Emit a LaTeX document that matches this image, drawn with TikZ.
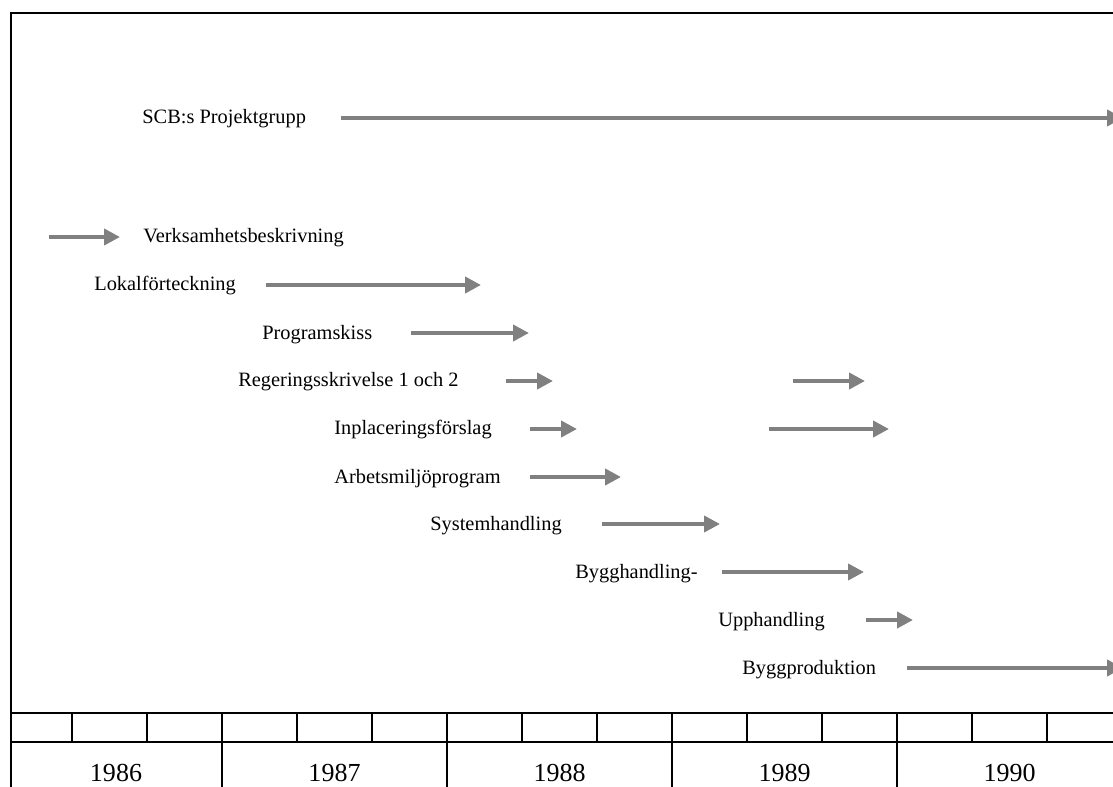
\documentclass[tikz,border=0pt]{standalone}
\usepackage{fontspec}
\setmainfont{Liberation Serif}
\usepackage{xcolor}
\usetikzlibrary{arrows.meta}

\begin{document}
\begin{tikzpicture}[x=0.02cm,y=-0.02cm,
        bar/.style={line width=0.095cm,draw=gray,-{Triangle[length=0.32cm,width=0.32cm]}},
        frame/.style={line width=0.05cm},
        task/.style={anchor=base west,inner sep=0pt,font=\fontsize{11.6}{14}\selectfont},
        year/.style={font=\fontsize{14.8}{17}\selectfont}]
        \newcommand\ganttBar[3]{\draw[bar] (#1,#3) -- (#2,#3)}
        \clip (0,0) rectangle (1113,787);
        % frame and time scale
        \draw[frame] (11,787) -- (11,13) -- (1113,13);
        \draw[frame] (11,713) -- (1113,713);
        \draw[frame] (11,742) -- (1113,742);
        \foreach \x in {72,147,...,1047} \draw[frame] (\x,713) -- (\x,742);
        \foreach \x in {222,447,672,897} \draw[frame] (\x,742) -- (\x,787);
        \node[year] (y1986) at (116,773) {1986};
        \node[year] (y1987) at (334.5,773) {1987};
        \node[year] (y1988) at (559.5,773) {1988};
        \node[year] (y1989) at (784.5,773) {1989};
        \node[year] (y1990) at (1009.5,773) {1990};
        % tasks
        \node[task] (scb) at (142,124) {SCB:s Projektgrupp};
        \node[task] (verks) at (143,243) {Verksamhetsbeskrivning};
        \node[task] (lokal) at (94,291) {Lokalförteckning};
        \node[task] (prog) at (262,339) {Programskiss};
        \node[task] (reger) at (238,387) {Regeringsskrivelse 1 och 2};
        \node[task] (inpl) at (334,435) {Inplaceringsförslag};
        \node[task] (arbets) at (334,483) {Arbetsmiljöprogram};
        \node[task] (system) at (430,530) {Systemhandling};
        \node[task] (bygg) at (575,578) {Bygghandling-};
        \node[task] (upph) at (718,626) {Upphandling};
        \node[task] (prod) at (742,674) {Byggproduktion};
        % bars
        \ganttBar{341}{1123}{118};
        \ganttBar{49}{120}{237};
        \ganttBar{266}{481}{285};
        \ganttBar{411}{529}{333};
        \ganttBar{506}{553}{381};
        \ganttBar{793}{865}{381};
        \ganttBar{530}{577}{429};
        \ganttBar{769}{889}{429};
        \ganttBar{530}{621}{477};
        \ganttBar{602}{720}{524};
        \ganttBar{722}{864}{572};
        \ganttBar{866}{913}{620};
        \ganttBar{907}{1123}{668};
\end{tikzpicture}
\end{document}
